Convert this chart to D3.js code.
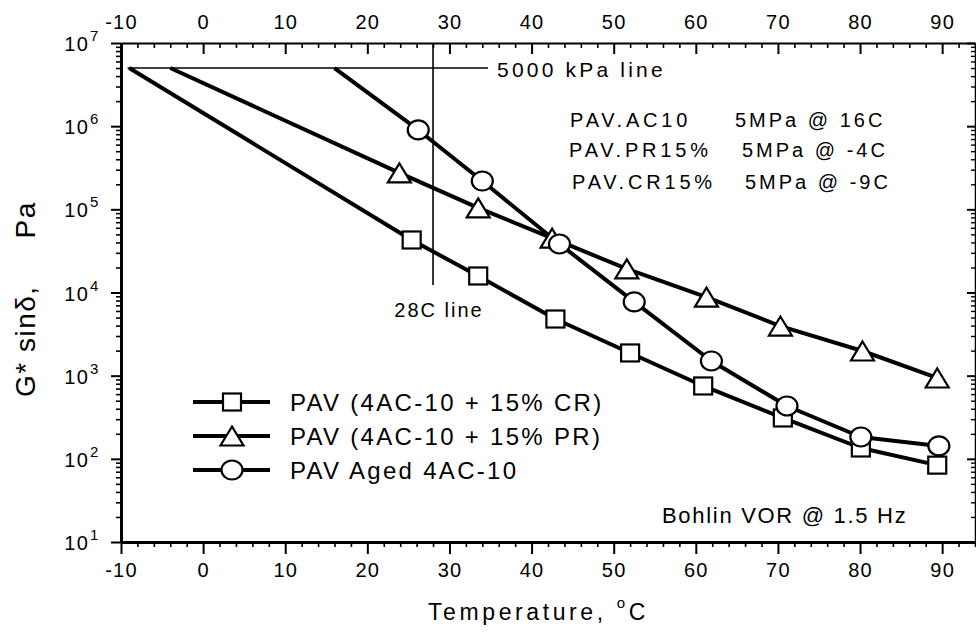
<!DOCTYPE html>
<html>
<head>
<meta charset="utf-8">
<script src="https://cdn.jsdelivr.net/npm/d3@7"></script>
<style>
  body { margin: 0; background: #fff; }
  svg { display: block; font-family: "Liberation Sans", Arial, sans-serif; }
  text { fill: #000; }
</style>
</head>
<body>
<svg id="chart" width="976" height="634"></svg>
<script>
// Temperature sweep, G* sin(delta) in Pa, Bohlin VOR at 1.5 Hz
const tempCR = [25.4, 33.5, 42.9, 52.0, 60.9, 70.6, 80.1, 89.4];
const gCR    = [4.28e4, 1.58e4, 4.8e3, 1.875e3, 752, 310, 135, 84];

const tempPR = [23.9, 33.5, 42.5, 51.6, 61.3, 70.3, 80.3, 89.4];
const gPR    = [2.74e5, 1.04e5, 4.5e4, 1.92e4, 8.8e3, 3.95e3, 1.98e3, 938];

const tempAC = [26.2, 34.0, 43.4, 52.5, 61.9, 71.1, 80.1, 89.6];
const gAC    = [9.0e5, 2.19e5, 3.83e4, 7.7e3, 1.5e3, 432, 183, 143];

// Temperatures where each binder reaches the 5000 kPa criterion
const critTemps = { CR: -9, PR: -4, AC: 16 };
const critValue = 5e6;           // 5000 kPa
const critLineSpan = [-9.2, 34.7];
const refTemp = 28;              // 28C reference line

const seriesNames = ["PAV (4AC-10 + 15% CR)", "PAV (4AC-10 + 15% PR)", "PAV Aged 4AC-10"];
const noteNames  = ["PAV.AC10", "PAV.PR15%", "PAV.CR15%"];
const noteValues = ["5MPa @ 16C", "5MPa @ -4C", "5MPa @ -9C"];

// Axis ticks
const xMajor = [-10, 0, 10, 20, 30, 40, 50, 60, 70, 80, 90];
const xMinor = d3.range(-8, 95, 2).filter(v => v % 10 !== 0);
const yExponents = [1, 2, 3, 4, 5, 6, 7];
const yMajor = yExponents.map(e => Math.pow(10, e));
const yMinor = [];
yExponents.slice(0, -1).forEach(e => { for (let m = 2; m <= 9; m++) yMinor.push(m * Math.pow(10, e)); });

const svg = d3.select("#chart");
const x = d3.scaleLinear().domain([-10, 94]).range([121, 975]);
const y = d3.scaleLog().domain([10, 1e7]).range([542, 43]);

function styleAxis(g, domainWidth, tickWidth, fontSize, spacing) {
  g.attr("font-family", null).attr("font-size", fontSize);
  g.select(".domain").attr("stroke", "#000").attr("stroke-width", domainWidth);
  g.selectAll(".tick line").attr("stroke", "#000").attr("stroke-width", tickWidth);
  g.selectAll(".tick text").attr("fill", "#000").attr("letter-spacing", spacing);
}

// Bottom axis
svg.append("g").attr("transform", "translate(0,542)")
  .call(d3.axisBottom(x).tickValues(xMinor).tickSize(5).tickSizeOuter(0).tickFormat(""))
  .call(g => { styleAxis(g, 0, 1.6, 20, 0); g.select(".domain").remove(); });
svg.append("g").attr("transform", "translate(0,542)")
  .call(d3.axisBottom(x).tickValues(xMajor).tickSize(12).tickSizeOuter(0).tickPadding(9).tickFormat(d => String(d)))
  .call(g => styleAxis(g, 3, 2, 20, 1.2));

// Top axis (ticks point into the plot)
svg.append("g").attr("transform", "translate(0,43)")
  .call(d3.axisTop(x).tickValues(xMinor).tickSize(-5).tickSizeOuter(0).tickFormat(""))
  .call(g => { styleAxis(g, 0, 1.6, 20, 0); g.select(".domain").remove(); });
svg.append("g").attr("transform", "translate(0,43)")
  .call(d3.axisTop(x).tickValues(xMajor).tickSize(-11).tickSizeOuter(0).tickPadding(14).tickFormat(d => String(d)))
  .call(g => styleAxis(g, 2, 2, 20, 1.2));

// Left axis (log)
svg.append("g").attr("transform", "translate(121,0)")
  .call(d3.axisLeft(y).tickValues(yMinor).tickSize(5).tickSizeOuter(0).tickFormat(""))
  .call(g => { styleAxis(g, 0, 1.6, 20, 0); g.select(".domain").remove(); });
svg.append("g").attr("transform", "translate(121,0)")
  .call(d3.axisLeft(y).tickValues(yMajor).tickSize(10).tickSizeOuter(0).tickFormat(""))
  .call(g => styleAxis(g, 3, 2, 20, 0));

// Right axis (ticks point into the plot)
svg.append("g").attr("transform", "translate(975,0)")
  .call(d3.axisRight(y).tickValues(yMinor).tickSize(-4).tickSizeOuter(0).tickFormat(""))
  .call(g => { styleAxis(g, 0, 1.4, 20, 0); g.select(".domain").remove(); });
svg.append("g").attr("transform", "translate(975,0)")
  .call(d3.axisRight(y).tickValues(yMajor).tickSize(-8).tickSizeOuter(0).tickFormat(""))
  .call(g => styleAxis(g, 1.5, 2, 20, 0));

// Power-of-ten labels
const yLab = svg.append("g").attr("class", "y-labels");
yExponents.forEach(e => {
  const yy = y(Math.pow(10, e));
  yLab.append("text").attr("x", 89).attr("y", yy + 8).attr("text-anchor", "end")
    .attr("font-size", 20).attr("letter-spacing", 1.2).text("10");
  yLab.append("text").attr("x", 90).attr("y", yy - 2).attr("font-size", 15).text(String(e));
});

// Axis titles
svg.append("text").attr("x", 428).attr("y", 620).attr("font-size", 23).attr("letter-spacing", 3.6)
  .call(t => {
    t.append("tspan").text("Temperature, ");
    t.append("tspan").attr("font-size", 15).attr("dy", -12).text("o");
    t.append("tspan").attr("dy", 12).text("C");
  });
svg.append("text").attr("transform", "translate(35,397) rotate(-90)").attr("font-size", 28)
  .attr("letter-spacing", 1.5)
  .call(t => {
    t.append("tspan").text("G* sinδ,");
    t.append("tspan").attr("dx", 47).text("Pa");
  });

// Reference lines
svg.append("line")
  .attr("x1", x(critLineSpan[0])).attr("x2", x(critLineSpan[1]))
  .attr("y1", y(critValue)).attr("y2", y(critValue))
  .attr("stroke", "#000").attr("stroke-width", 1.6);
svg.append("line")
  .attr("x1", x(refTemp)).attr("x2", x(refTemp))
  .attr("y1", y(1e7)).attr("y2", 285)
  .attr("stroke", "#000").attr("stroke-width", 1.6);

svg.append("text").attr("x", 497).attr("y", 77).attr("font-size", 21).attr("letter-spacing", 3.2)
  .text("5000 kPa line");
svg.append("text").attr("x", 439).attr("y", 317).attr("font-size", 20).attr("letter-spacing", 2)
  .attr("text-anchor", "middle").text("28C line");

const noteY = [127, 157, 189];
const noteX1 = [570, 569, 572];
const noteX2 = [735, 742, 745];
noteNames.forEach((n, i) => {
  svg.append("text").attr("x", noteX1[i]).attr("y", noteY[i]).attr("font-size", 20)
    .attr("letter-spacing", 3.8).text(n);
  svg.append("text").attr("x", noteX2[i]).attr("y", noteY[i]).attr("font-size", 20)
    .attr("letter-spacing", 3).text(noteValues[i]);
});

svg.append("text").attr("x", 662).attr("y", 523).attr("font-size", 22).attr("letter-spacing", 1.7)
  .text("Bohlin VOR @ 1.5 Hz");

// Series
const series = [
  { key: "CR", t: tempCR, g: gCR, shape: "square" },
  { key: "PR", t: tempPR, g: gPR, shape: "triangle" },
  { key: "AC", t: tempAC, g: gAC, shape: "circle" }
];

const line = d3.line().x(d => x(d[0])).y(d => y(d[1]));

function drawMarker(sel, shape, cx, cy) {
  if (shape === "square") {
    sel.append("rect").attr("x", cx - 9).attr("y", cy - 8.5).attr("width", 18).attr("height", 17)
      .attr("fill", "#fff").attr("stroke", "#000").attr("stroke-width", 2.2);
  } else if (shape === "triangle") {
    const w = 23, h = 19;
    sel.append("path")
      .attr("d", `M${cx},${cy - h / 2}L${cx + w / 2},${cy + h / 2}L${cx - w / 2},${cy + h / 2}Z`)
      .attr("fill", "#fff").attr("stroke", "#000").attr("stroke-width", 2.2).attr("stroke-linejoin", "miter");
  } else {
    sel.append("ellipse").attr("cx", cx).attr("cy", cy).attr("rx", 10.5).attr("ry", 9.5)
      .attr("fill", "#fff").attr("stroke", "#000").attr("stroke-width", 2.2);
  }
}

const plot = svg.append("g").attr("class", "series");
series.forEach(s => {
  const pts = [[critTemps[s.key], critValue]].concat(s.t.map((t, i) => [t, s.g[i]]));
  plot.append("path").attr("d", line(pts)).attr("fill", "none")
    .attr("stroke", "#000").attr("stroke-width", 4).attr("stroke-linejoin", "round");
});
series.forEach(s => {
  const mg = plot.append("g");
  s.t.forEach((t, i) => drawMarker(mg, s.shape, x(t), y(s.g[i])));
});

// Legend
const legRows = [402, 436, 470];
const leg = svg.append("g").attr("class", "legend");
series.forEach((s, i) => {
  const ly = legRows[i];
  leg.append("line").attr("x1", 193).attr("x2", 270).attr("y1", ly).attr("y2", ly)
    .attr("stroke", "#000").attr("stroke-width", 4);
  drawMarker(leg, s.shape, 232, ly);
  leg.append("text").attr("x", 290).attr("y", ly + 8.5).attr("font-size", 24)
    .attr("letter-spacing", 2.3).text(seriesNames[i]);
});
</script>
</body>
</html>
